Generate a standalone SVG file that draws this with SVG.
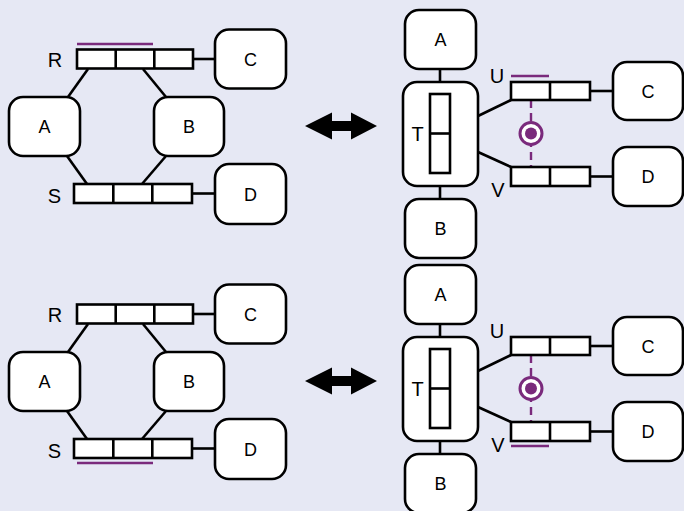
<svg xmlns="http://www.w3.org/2000/svg" width="684" height="511" viewBox="0 0 684 511">
<style>
.bg{fill:#e6e8f4}
.box{fill:#fff;stroke:#000;stroke-width:2.6}
.bar{fill:#fff;stroke:#000;stroke-width:2.6}
.ln{stroke:#000;stroke-width:2.6;fill:none}
.pl{stroke:#7a2a7c;stroke-width:2.6;fill:none}
.pd{stroke:#7a2a7c;stroke-width:2.4;fill:none;stroke-dasharray:8,5}
.t{font-family:"Liberation Sans",Arial,sans-serif;font-size:18px;fill:#000;text-anchor:middle}
.lb{font-family:"Liberation Sans",Arial,sans-serif;font-size:20px;fill:#000;text-anchor:middle}
</style>
<defs>
<g id="dbl"><polygon points="305,126 332,112.5 332,121 351,121 351,112.5 377,126 351,139.5 351,131 332,131 332,139.5" fill="#000"/></g>
</defs>
<rect class="bg" x="0" y="0" width="684" height="511"/>

<!-- ===== TOP PANEL ===== -->
<g id="top">
<g id="connectors-top">
<line class="ln" x1="193" y1="59" x2="215" y2="59"/>
<line class="ln" x1="88" y1="69" x2="68" y2="97"/>
<line class="ln" x1="143" y1="69" x2="166" y2="97"/>
<line class="ln" x1="67" y1="156" x2="87" y2="184"/>
<line class="ln" x1="166" y1="156" x2="142" y2="184"/>
<line class="ln" x1="192" y1="193.5" x2="215" y2="193.5"/>
<line class="ln" x1="440" y1="69" x2="440" y2="94"/>
<line class="ln" x1="440" y1="173" x2="440" y2="199"/>
<line class="ln" x1="478" y1="116" x2="511" y2="100"/>
<line class="ln" x1="478" y1="152" x2="511" y2="167"/>
<line class="ln" x1="590" y1="91" x2="613" y2="91"/>
<line class="ln" x1="590" y1="176.5" x2="613" y2="176.5"/>
<line class="pd" x1="531" y1="100" x2="531" y2="167"/>
<use href="#dbl"/>
</g>
<g id="tl-R">
<rect class="bar" x="77" y="49.5" width="116" height="19"/>
<line class="ln" x1="115.7" y1="49.5" x2="115.7" y2="68.5"/>
<line class="ln" x1="154.3" y1="49.5" x2="154.3" y2="68.5"/>
<text class="lb" x="55" y="67">R</text>
<line class="pl" x1="77" y1="44" x2="153" y2="44"/>
</g>
<g id="tl-S">
<rect class="bar" x="74" y="184" width="118" height="19"/>
<line class="ln" x1="113.3" y1="184" x2="113.3" y2="203"/>
<line class="ln" x1="152.3" y1="184" x2="152.3" y2="203"/>
<text class="lb" x="54.5" y="202.5">S</text>
</g>
<g id="tl-A"><rect class="box" x="9" y="97" width="71" height="59" rx="14"/><text class="t" x="44.5" y="133">A</text></g>
<g id="tl-B"><rect class="box" x="154" y="97" width="70" height="59" rx="14"/><text class="t" x="189" y="133">B</text></g>
<g id="tl-C"><rect class="box" x="215" y="29.5" width="71" height="59" rx="14"/><text class="t" x="250.5" y="65.5">C</text></g>
<g id="tl-D"><rect class="box" x="215" y="164" width="71" height="60" rx="14"/><text class="t" x="250.5" y="200.5">D</text></g>

<g id="tr-A"><rect class="box" x="405" y="10" width="71" height="59" rx="14"/><text class="t" x="440.5" y="46">A</text></g>
<g id="tr-B"><rect class="box" x="405" y="199" width="71" height="59" rx="14"/><text class="t" x="440.5" y="235">B</text></g>
<g id="tr-T">
<rect class="box" x="403" y="82" width="75" height="104" rx="14"/>
<rect class="bar" x="430" y="94" width="20" height="79"/>
<line class="ln" x1="430" y1="133.5" x2="450" y2="133.5"/>
<text class="lb" x="417.5" y="141">T</text>
</g>
<g id="tr-U">
<rect class="bar" x="511" y="82" width="79" height="18"/>
<line class="ln" x1="550" y1="82" x2="550" y2="100"/>
<text class="lb" x="497" y="82.5">U</text>
<line class="pl" x1="511" y1="76" x2="549" y2="76"/>
</g>
<g id="tr-V">
<rect class="bar" x="511" y="167" width="79" height="19"/>
<line class="ln" x1="550" y1="167" x2="550" y2="186"/>
<text class="lb" x="498" y="196.5">V</text>
</g>
<g id="tr-C"><rect class="box" x="613" y="62" width="70" height="58" rx="14"/><text class="t" x="648" y="97.5">C</text></g>
<g id="tr-D"><rect class="box" x="613" y="147" width="70" height="59" rx="14"/><text class="t" x="648" y="183">D</text></g>
<g id="tr-lock">
<circle cx="531" cy="133.5" r="11" fill="#fff" stroke="#7a2a7c" stroke-width="3"/>
<circle cx="531" cy="133.5" r="6" fill="#7a2a7c"/>
</g>
</g>

<!-- ===== BOTTOM PANEL ===== -->
<g id="bottom" transform="translate(0,255)">
<g id="connectors-bottom">
<line class="ln" x1="193" y1="59" x2="215" y2="59"/>
<line class="ln" x1="88" y1="69" x2="68" y2="97"/>
<line class="ln" x1="143" y1="69" x2="166" y2="97"/>
<line class="ln" x1="67" y1="156" x2="87" y2="184"/>
<line class="ln" x1="166" y1="156" x2="142" y2="184"/>
<line class="ln" x1="192" y1="193.5" x2="215" y2="193.5"/>
<line class="ln" x1="440" y1="69" x2="440" y2="94"/>
<line class="ln" x1="440" y1="173" x2="440" y2="199"/>
<line class="ln" x1="478" y1="116" x2="511" y2="100"/>
<line class="ln" x1="478" y1="152" x2="511" y2="167"/>
<line class="ln" x1="590" y1="91" x2="613" y2="91"/>
<line class="ln" x1="590" y1="176.5" x2="613" y2="176.5"/>
<line class="pd" x1="531" y1="100" x2="531" y2="167"/>
<use href="#dbl"/>
</g>
<g id="bl-R">
<rect class="bar" x="77" y="49.5" width="116" height="19"/>
<line class="ln" x1="115.7" y1="49.5" x2="115.7" y2="68.5"/>
<line class="ln" x1="154.3" y1="49.5" x2="154.3" y2="68.5"/>
<text class="lb" x="55" y="67">R</text>
</g>
<g id="bl-S">
<rect class="bar" x="74" y="184" width="118" height="19"/>
<line class="ln" x1="113.3" y1="184" x2="113.3" y2="203"/>
<line class="ln" x1="152.3" y1="184" x2="152.3" y2="203"/>
<text class="lb" x="54.5" y="202.5">S</text>
<line class="pl" x1="77" y1="208" x2="153" y2="208"/>
</g>
<g id="bl-A"><rect class="box" x="9" y="97" width="71" height="59" rx="14"/><text class="t" x="44.5" y="133">A</text></g>
<g id="bl-B"><rect class="box" x="154" y="97" width="70" height="59" rx="14"/><text class="t" x="189" y="133">B</text></g>
<g id="bl-C"><rect class="box" x="215" y="29.5" width="71" height="59" rx="14"/><text class="t" x="250.5" y="65.5">C</text></g>
<g id="bl-D"><rect class="box" x="215" y="164" width="71" height="60" rx="14"/><text class="t" x="250.5" y="200.5">D</text></g>

<g id="br-A"><rect class="box" x="405" y="10" width="71" height="59" rx="14"/><text class="t" x="440.5" y="46">A</text></g>
<g id="br-B"><rect class="box" x="405" y="199" width="71" height="59" rx="14"/><text class="t" x="440.5" y="235">B</text></g>
<g id="br-T">
<rect class="box" x="403" y="82" width="75" height="104" rx="14"/>
<rect class="bar" x="430" y="94" width="20" height="79"/>
<line class="ln" x1="430" y1="133.5" x2="450" y2="133.5"/>
<text class="lb" x="417.5" y="141">T</text>
</g>
<g id="br-U">
<rect class="bar" x="511" y="82" width="79" height="18"/>
<line class="ln" x1="550" y1="82" x2="550" y2="100"/>
<text class="lb" x="497" y="82.5">U</text>
</g>
<g id="br-V">
<rect class="bar" x="511" y="167" width="79" height="19"/>
<line class="ln" x1="550" y1="167" x2="550" y2="186"/>
<text class="lb" x="498" y="196.5">V</text>
<line class="pl" x1="511" y1="191" x2="549" y2="191"/>
</g>
<g id="br-C"><rect class="box" x="613" y="62" width="70" height="58" rx="14"/><text class="t" x="648" y="97.5">C</text></g>
<g id="br-D"><rect class="box" x="613" y="147" width="70" height="59" rx="14"/><text class="t" x="648" y="183">D</text></g>
<g id="br-lock">
<circle cx="531" cy="133.5" r="11" fill="#fff" stroke="#7a2a7c" stroke-width="3"/>
<circle cx="531" cy="133.5" r="6" fill="#7a2a7c"/>
</g>
</g>
</svg>
